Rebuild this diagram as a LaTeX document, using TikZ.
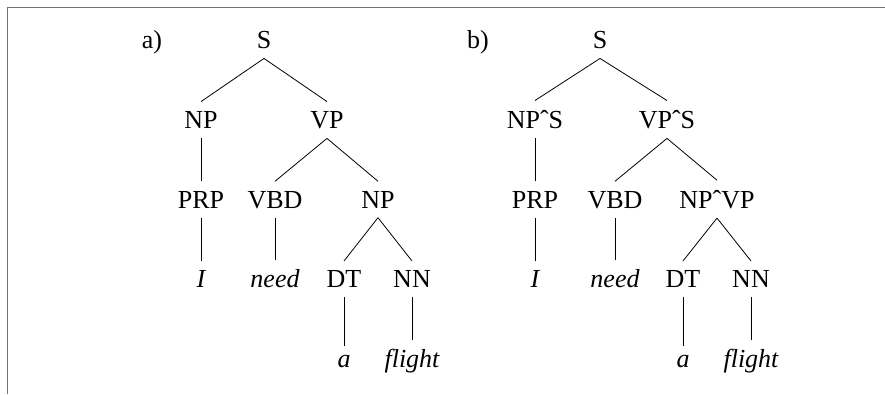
\documentclass[tikz,border=0pt]{standalone}
\usepackage{fontspec}
\setmainfont{Liberation Serif}
\begin{document}
\begin{tikzpicture}[x=1pt,y=-1pt,
  lbl/.style={anchor=base,inner xsep=0pt,inner ysep=9.5pt,font=\fontsize{26}{30}\selectfont},
  word/.style={lbl,font=\fontsize{26}{30}\selectfont\itshape},
  edge/.style={draw=black,line width=0.8pt},
  frame/.style={draw=black!55,line width=1.3pt}]
\useasboundingbox (0,0) rectangle (885,394);
\coordinate (fbl) at (7.5,394);
\coordinate (ftl) at (7.5,7.5);
\coordinate (ftr) at (885,7.5);
\draw[frame] (fbl) -- (ftl) -- (ftr);

% tree a)
\node[lbl] (la) at (152,48.5) {a)};
\node[lbl] (aS) at (264,48.5) {S};
\node[lbl] (aNP) at (201,128.3) {NP};
\node[lbl] (aVP) at (327,128.3) {VP};
\node[lbl] (aPRP) at (201,208) {PRP};
\node[lbl] (aVBD) at (275,208) {VBD};
\node[lbl] (aNP2) at (378,208) {NP};
\node[word] (aI) at (201,287.7) {I};
\node[word] (aneed) at (275,287.7) {need};
\node[lbl] (aDT) at (344,287.7) {DT};
\node[lbl] (aNN) at (412,287.7) {NN};
\node[word] (aa) at (344,367.5) {a};
\node[word] (aflight) at (412,367.5) {flight};
\draw[edge] (aS.south) -- (aNP.north);
\draw[edge] (aS.south) -- (aVP.north);
\draw[edge] (aNP.south) -- (aPRP.north);
\draw[edge] (aVP.south) -- (aVBD.north);
\draw[edge] (aVP.south) -- (aNP2.north);
\draw[edge] (aPRP.south) -- (aI.north);
\draw[edge] (aVBD.south) -- (aneed.north);
\draw[edge] (aNP2.south) -- (aDT.north);
\draw[edge] (aNP2.south) -- (aNN.north);
\draw[edge] (aDT.south) -- (aa.north);
\draw[edge] (aNN.south) -- (aflight.north);

% tree b)
\node[lbl] (lb) at (478,48.5) {b)};
\node[lbl] (bS) at (600,48.5) {S};
\node[lbl] (bNP) at (535,128.3) {NPˆS};
\node[lbl] (bVP) at (667,128.3) {VPˆS};
\node[lbl] (bPRP) at (535,208) {PRP};
\node[lbl] (bVBD) at (615,208) {VBD};
\node[lbl] (bNP2) at (717,208) {NPˆVP};
\node[word] (bI) at (535,287.7) {I};
\node[word] (bneed) at (615,287.7) {need};
\node[lbl] (bDT) at (683,287.7) {DT};
\node[lbl] (bNN) at (751,287.7) {NN};
\node[word] (ba) at (683,367.5) {a};
\node[word] (bflight) at (751,367.5) {flight};
\draw[edge] (bS.south) -- (bNP.north);
\draw[edge] (bS.south) -- (bVP.north);
\draw[edge] (bNP.south) -- (bPRP.north);
\draw[edge] (bVP.south) -- (bVBD.north);
\draw[edge] (bVP.south) -- (bNP2.north);
\draw[edge] (bPRP.south) -- (bI.north);
\draw[edge] (bVBD.south) -- (bneed.north);
\draw[edge] (bNP2.south) -- (bDT.north);
\draw[edge] (bNP2.south) -- (bNN.north);
\draw[edge] (bDT.south) -- (ba.north);
\draw[edge] (bNN.south) -- (bflight.north);
\end{tikzpicture}
\end{document}
